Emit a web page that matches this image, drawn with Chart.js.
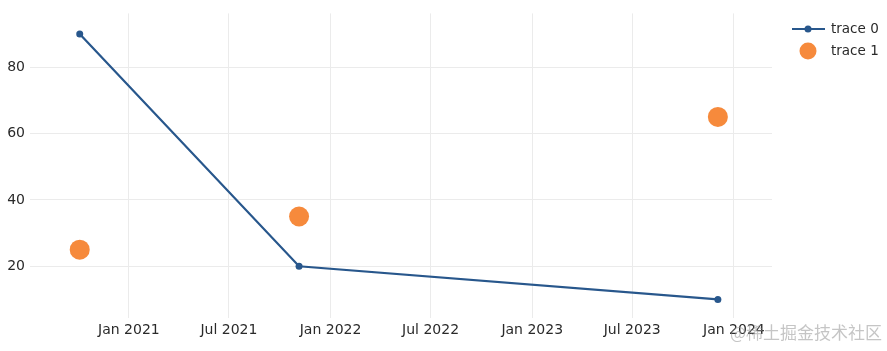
<!DOCTYPE html>
<html>
<head>
<meta charset="utf-8">
<script src="https://cdn.jsdelivr.net/npm/chart.js@4"></script>
<style>
  html, body { margin: 0; padding: 0; background: #fff; }
  #wrap { width: 887px; height: 351px; }
</style>
</head>
<body>
<div id="wrap"><canvas id="chart" width="887" height="351"></canvas></div>
<script>
// data
const dates = ['2020-10-04', '2021-11-05', '2023-12-03'];
const trace0 = [90, 20, 10];
const trace1 = [25, 35, 65];
const seriesNames = ['trace 0', 'trace 1'];
const xTickDates = ['2021-01-01', '2021-07-01', '2022-01-01', '2022-07-01', '2023-01-01', '2023-07-01', '2024-01-01'];
const xTickLabels = ['Jan 2021', 'Jul 2021', 'Jan 2022', 'Jul 2022', 'Jan 2023', 'Jul 2023', 'Jan 2024'];
const yTicks = [20, 40, 60, 80];

const BLUE = '#28578c';
const ORANGE = '#f68a3c';
const FONT = 'DejaVu Sans';
const TEXT = '#2a2a2a';

const t = d => Date.parse(d + 'T00:00:00Z');
const points = vals => vals.map((v, i) => ({ x: t(dates[i]), y: v }));

// plotly-like legend drawn at the top right
const legendPlugin = {
  id: 'plotlyLegend',
  afterDraw(chart) {
    const c = chart.ctx;
    c.save();
    // trace 0: line with marker
    c.strokeStyle = BLUE;
    c.lineWidth = 2;
    c.beginPath();
    c.moveTo(792, 29);
    c.lineTo(825, 29);
    c.stroke();
    c.fillStyle = BLUE;
    c.beginPath();
    c.arc(808, 29, 3.5, 0, Math.PI * 2);
    c.fill();
    // trace 1: big marker
    c.fillStyle = ORANGE;
    c.beginPath();
    c.arc(808, 51, 8.5, 0, Math.PI * 2);
    c.fill();
    c.fillStyle = TEXT;
    c.font = '13.5px "' + FONT + '"';
    c.textBaseline = 'middle';
    c.textAlign = 'left';
    c.fillText(seriesNames[0], 831, 29);
    c.fillText(seriesNames[1], 831, 51);
    // watermark
    c.fillStyle = 'rgba(150,150,150,0.55)';
    c.font = '17px "Noto Sans CJK SC"';
    c.textAlign = 'right';
    c.fillText('@稀土掘金技术社区', 882, 333);
    c.restore();
  }
};

new Chart(document.getElementById('chart'), {
  type: 'scatter',
  data: {
    datasets: [
      {
        label: seriesNames[0],
        data: points(trace0),
        showLine: true,
        borderColor: BLUE,
        backgroundColor: BLUE,
        borderWidth: 2.2,
        pointRadius: 3.5,
        pointHoverRadius: 3.5,
        pointBorderWidth: 0
      },
      {
        label: seriesNames[1],
        data: points(trace1),
        showLine: false,
        borderColor: ORANGE,
        backgroundColor: ORANGE,
        pointRadius: 10,
        pointHoverRadius: 10,
        pointBorderWidth: 0
      }
    ]
  },
  options: {
    responsive: false,
    animation: false,
    layout: { padding: { top: 12, right: 115, bottom: 0, left: 0 } },
    plugins: {
      legend: { display: false },
      tooltip: { enabled: false }
    },
    scales: {
      x: {
        type: 'linear',
        min: t('2020-07-06'),
        max: t('2024-03-10'),
        afterBuildTicks: s => { s.ticks = xTickDates.map(d => ({ value: t(d) })); },
        afterFit: s => { s.height = 33; },
        grid: { color: '#ebebeb', lineWidth: 1, drawTicks: false },
        border: { display: false },
        ticks: {
          autoSkip: false,
          maxRotation: 0,
          padding: 4,
          color: TEXT,
          font: { family: FONT, size: 14 },
          callback: (v, i) => xTickLabels[i]
        }
      },
      y: {
        min: 4.4,
        max: 96.2,
        afterBuildTicks: s => { s.ticks = yTicks.map(v => ({ value: v })); },
        afterFit: s => { s.width = 30; },
        grid: { color: '#ebebeb', lineWidth: 1, drawTicks: false },
        border: { display: false },
        ticks: {
          padding: 5,
          color: TEXT,
          font: { family: FONT, size: 14 },
          callback: v => String(v)
        }
      }
    }
  },
  plugins: [legendPlugin]
});
</script>
</body>
</html>
